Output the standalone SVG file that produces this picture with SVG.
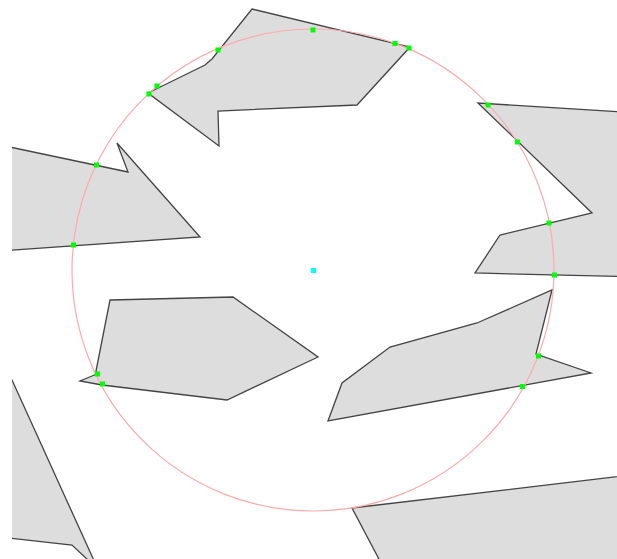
<svg xmlns="http://www.w3.org/2000/svg" width="617" height="559" viewBox="0 0 617 559">
<defs>
<style>
.poly{fill:#dddddd;stroke:#444444;stroke-width:1.3;stroke-linejoin:miter}
.circ{fill:none;stroke:#ffaaaa;stroke-width:1.2}
.pt{fill:#00ff00}
.ctr{fill:#00ffff}
</style>
<clipPath id="clip"><rect x="12" y="0" width="605" height="559"/></clipPath>
</defs>
<rect width="617" height="559" fill="#ffffff"/>
<g id="shapes" clip-path="url(#clip)">
<polygon id="p-top" class="poly" points="252,9 410,47 357,105 218,111 219,146 148,93 205,65 212,59"/>
<polygon id="p-left" class="poly" points="0,145 128,172 117,143 200,237 0,251"/>
<polygon id="p-right" class="poly" points="640,113 478,103 592,213 500,235 475,273 640,277"/>
<polygon id="p-mid-left" class="poly" points="110,300 233,297 318,357 227,400 102,385 80,381 97,374 96,371"/>
<polygon id="p-mid-right" class="poly" points="552,290 536,354 591,373 328,421 342,383 390,347 477,323"/>
<polygon id="p-bot-left" class="poly" points="12,380 96,565 88,560 72,545 0,537 0,380"/>
<polygon id="p-bot-right" class="poly" points="352,508 640,474 640,580 390,580"/>
</g>
<circle id="circle" class="circ" cx="313" cy="270" r="241"/>
<g id="points">
<rect class="pt" x="215.5" y="47.5" width="5" height="5"/>
<rect class="pt" x="310.5" y="27.5" width="5" height="5"/>
<rect class="pt" x="392.5" y="41" width="5" height="5"/>
<rect class="pt" x="406.5" y="45.5" width="5" height="5"/>
<rect class="pt" x="154.5" y="83.5" width="5" height="5"/>
<rect class="pt" x="146.5" y="91.5" width="5" height="5"/>
<rect class="pt" x="94" y="162.5" width="5" height="5"/>
<rect class="pt" x="71" y="242.5" width="5" height="5"/>
<rect class="pt" x="485.5" y="102.5" width="5" height="5"/>
<rect class="pt" x="515" y="139.5" width="5" height="5"/>
<rect class="pt" x="546.5" y="220.5" width="5" height="5"/>
<rect class="pt" x="552" y="272.5" width="5" height="5"/>
<rect class="pt" x="95" y="371.5" width="5" height="5"/>
<rect class="pt" x="100" y="381.5" width="5" height="5"/>
<rect class="pt" x="536" y="353.5" width="5" height="5"/>
<rect class="pt" x="520" y="384" width="5" height="5"/>
<rect class="ctr" x="311" y="268" width="5" height="5"/>
</g>
</svg>
